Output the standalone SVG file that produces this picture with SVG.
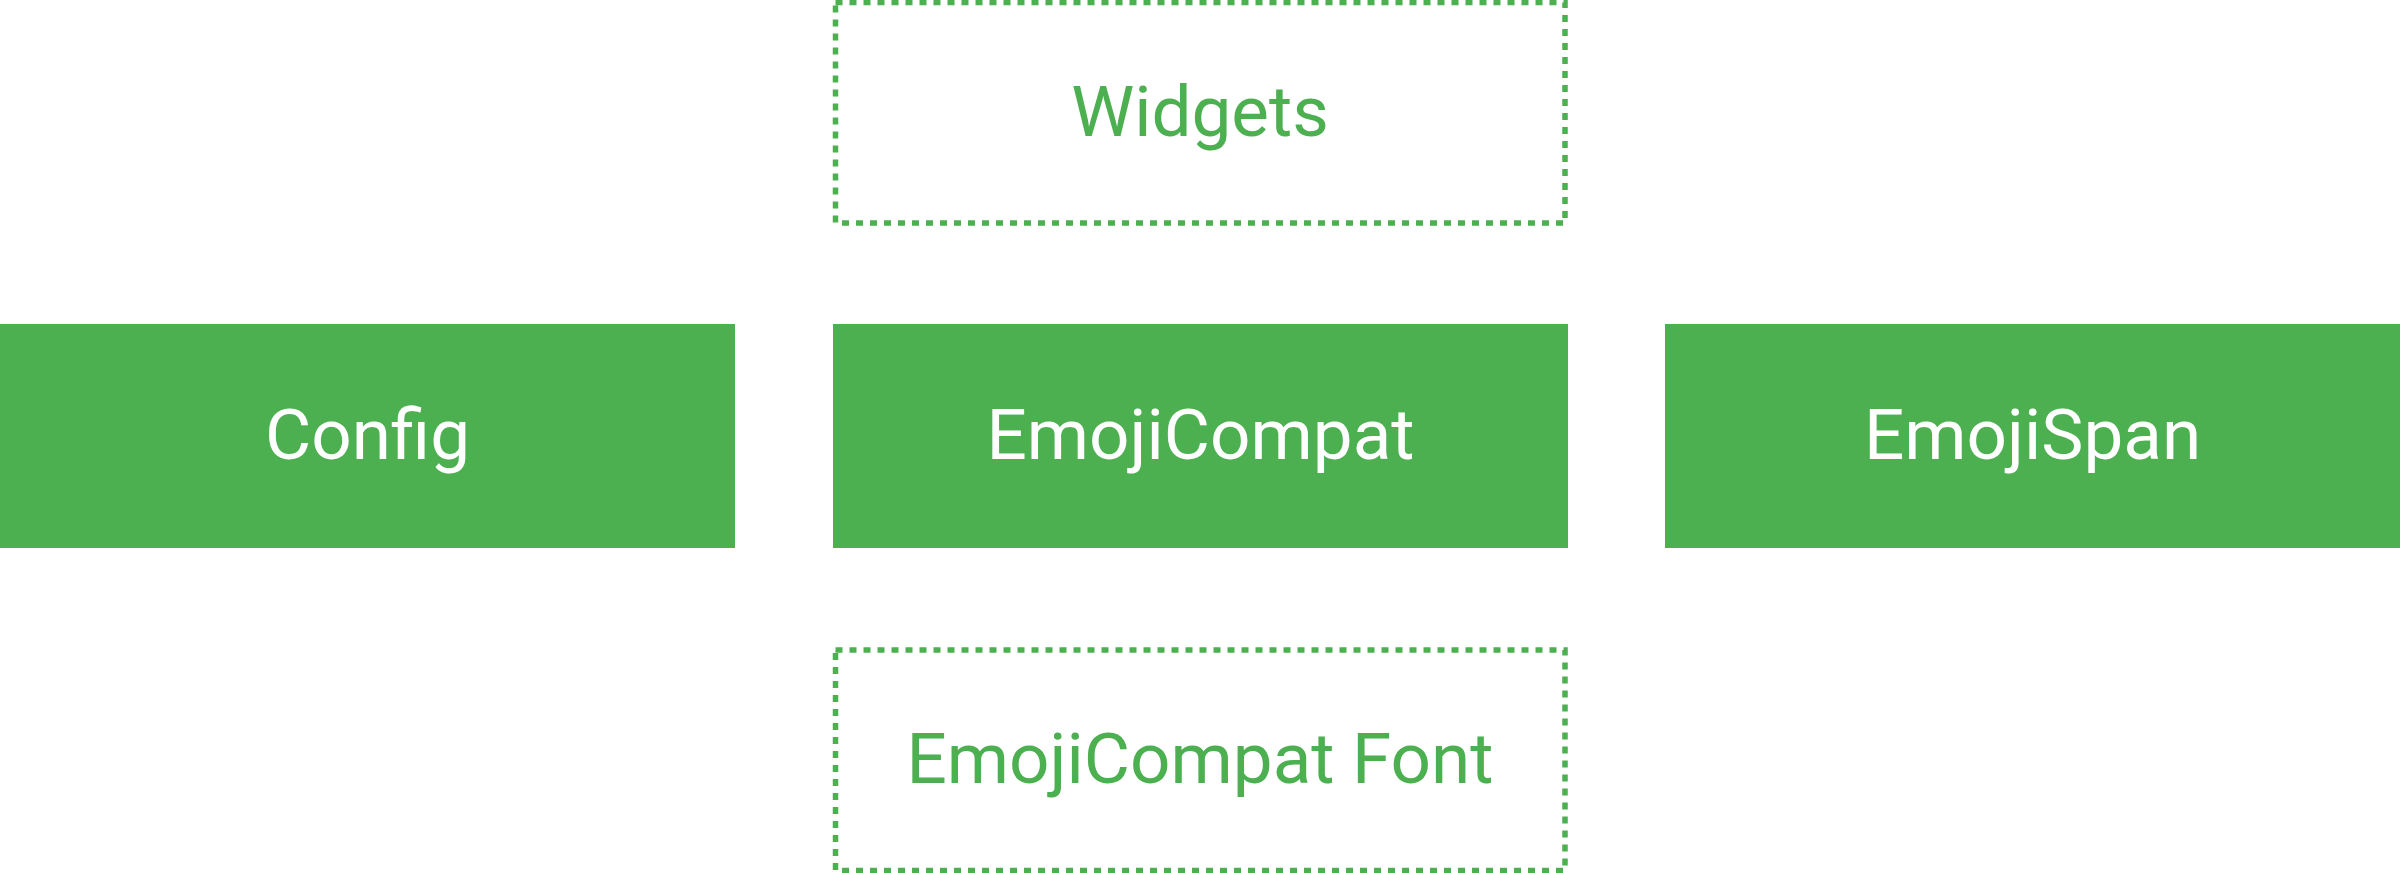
<svg xmlns="http://www.w3.org/2000/svg" width="2400" height="873" viewBox="0 0 2400 873">
  <style>
    .solid { fill: #4CAF50; }
    .dashed { fill: none; stroke: #4CAF50; stroke-width: 5.5; stroke-dasharray: 7 7; }
    .lbl { font-family: Roboto, "Liberation Sans", sans-serif; font-size: 71px; text-anchor: middle; }
    .w { fill: #FFFFFF; }
    .g { fill: #4CAF50; }
  </style>
  <rect width="2400" height="873" fill="#FFFFFF"/>
  <g id="connectors"/>
  <g id="widgets">
    <rect class="dashed" x="835.5" y="2.5" width="729.5" height="220.5"/>
    <text class="lbl g" x="1200" y="136">Widgets</text>
  </g>
  <g id="config">
    <rect class="solid" x="0" y="324" width="735" height="224"/>
    <text class="lbl w" x="367.5" y="459">Config</text>
  </g>
  <g id="emojicompat">
    <rect class="solid" x="833" y="324" width="735" height="224"/>
    <text class="lbl w" x="1200.5" y="459">EmojiCompat</text>
  </g>
  <g id="emojispan">
    <rect class="solid" x="1665" y="324" width="735" height="224"/>
    <text class="lbl w" x="2032.5" y="459">EmojiSpan</text>
  </g>
  <g id="emojicompat-font">
    <rect class="dashed" x="835.5" y="650" width="729.5" height="220.5"/>
    <text class="lbl g" x="1200" y="783">EmojiCompat Font</text>
  </g>
</svg>
